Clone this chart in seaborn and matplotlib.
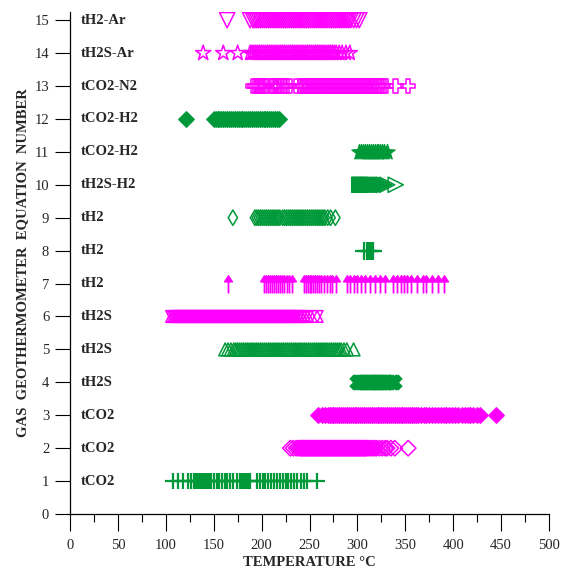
import numpy as np
import pandas as pd
import matplotlib
matplotlib.use('Agg')
import matplotlib.pyplot as plt
from matplotlib.path import Path
from matplotlib.ticker import MultipleLocator
import seaborn as sns

# equation labels, bottom (1) to top (15)
labels = ['tCO2', 'tCO2', 'tCO2', 'tH2S', 'tH2S', 'tH2S', 'tH2', 'tH2', 'tH2',
          'tH2S-H2', 'tCO2-H2', 'tCO2-H2', 'tCO2-N2', 'tH2S-Ar', 'tH2-Ar']

# temperatures (deg C), one list per equation
t01 = [108, 113, 118, 123, 126, 129, 131, 133, 135, 137, 139, 141, 143, 145, 147, 150,
       153, 156, 159, 162, 164, 167, 170, 174, 177, 180, 182, 184, 186, 188, 195, 198,
       201, 204, 207, 210, 213, 216, 219, 222, 225, 228, 231, 234, 237, 241, 244, 247,
       258]
t02 = [230, 233, 236, 238, 240, 241, 242, 243, 244, 245, 246, 247, 248, 249, 250, 251,
       252, 253, 254, 255, 256, 257, 258, 259, 260, 261, 262, 263, 264, 265, 266, 267,
       268, 269, 270, 271, 272, 273, 274, 275, 276, 277, 278, 279, 280, 281, 282, 283,
       284, 285, 286, 287, 288, 289, 290, 291, 292, 293, 294, 295, 296, 297, 298, 299,
       300, 301, 302, 303, 304, 305, 306, 307, 308, 309, 310, 312, 314, 316, 318, 320,
       323, 326, 329, 331, 335, 339, 353]
t03 = [259, 263, 266, 269, 271, 273, 275, 277, 279, 281, 283, 285, 287, 289, 291, 293,
       295, 297, 299, 301, 303, 305, 307, 309, 311, 313, 315, 317, 319, 321, 323, 325,
       327, 329, 331, 333, 335, 337, 339, 341, 343, 345, 347, 349, 351, 353, 355, 357,
       359, 361, 363, 366, 369, 372, 375, 378, 381, 384, 387, 390, 393, 396, 399, 402,
       405, 409, 412, 415, 418, 421, 425, 428, 445]
t04 = [300, 302, 304, 306, 308, 310, 312, 314, 316, 318, 320, 322, 324, 326, 328, 330,
       333, 336, 338]
t05 = [162, 165, 168, 171, 173, 175, 177, 179, 181, 183, 185, 187, 189, 191, 193, 195,
       197, 199, 201, 203, 205, 207, 209, 211, 213, 215, 217, 219, 221, 223, 225, 227,
       229, 231, 233, 235, 237, 239, 241, 243, 245, 247, 249, 251, 253, 255, 257, 259,
       261, 263, 265, 267, 269, 271, 273, 275, 277, 279, 281, 283, 286, 289, 296]
t06 = [106, 108, 110, 112, 114, 116, 118, 120, 122, 124, 126, 128, 130, 132, 134, 136,
       138, 140, 142, 144, 146, 148, 150, 152, 154, 156, 158, 160, 162, 164, 166, 168,
       170, 172, 174, 176, 178, 180, 182, 184, 186, 188, 190, 192, 194, 196, 198, 200,
       202, 204, 206, 208, 210, 212, 214, 216, 218, 220, 222, 224, 226, 228, 230, 232,
       234, 236, 239, 242, 245, 248, 258]
t07 = [165, 203, 205, 207, 209, 211, 213, 215, 217, 219, 221, 223, 226, 229, 232, 244,
       246, 248, 250, 252, 254, 256, 258, 260, 262, 265, 268, 271, 274, 278, 289, 292,
       296, 300, 304, 308, 313, 318, 324, 329, 337, 341, 345, 349, 352, 356, 362, 368,
       372, 378, 384, 390]
t08 = [307, 310, 312, 314, 316]
t09 = [170, 193, 195, 197, 199, 201, 203, 205, 207, 209, 211, 213, 215, 217, 219, 222,
       224, 226, 228, 230, 232, 234, 236, 238, 240, 242, 244, 246, 248, 250, 252, 254,
       256, 258, 260, 262, 264, 266, 269, 272, 277]
t10 = [302, 303, 304, 305, 306, 307, 308, 309, 310, 311, 312, 313, 314, 315, 316, 317,
       318, 320, 322, 324, 326, 328, 331, 340]
t11 = [302, 304, 306, 308, 310, 312, 314, 316, 318, 320, 322, 324, 326, 328, 331]
t12 = [121, 150, 152, 154, 156, 158, 160, 162, 164, 166, 168, 170, 172, 174, 176, 178,
       180, 182, 184, 186, 188, 190, 192, 194, 196, 198, 200, 202, 204, 206, 208, 210,
       212, 214, 216, 218]
t13 = [191, 193, 195, 197, 199, 201, 203, 205, 210, 212, 214, 216, 218, 220, 223, 226,
       229, 236, 240, 242, 244, 246, 248, 250, 252, 254, 256, 258, 260, 262, 264, 266,
       268, 270, 272, 274, 276, 278, 280, 282, 284, 286, 288, 290, 292, 294, 296, 298,
       300, 302, 304, 306, 308, 310, 312, 314, 316, 318, 320, 322, 324, 327, 330, 340,
       353]
t14 = [139, 160, 175, 188, 190, 192, 194, 196, 198, 200, 202, 204, 206, 208, 210, 212,
       214, 216, 218, 220, 222, 224, 226, 228, 230, 232, 234, 236, 238, 240, 242, 244,
       246, 248, 250, 252, 254, 256, 258, 260, 262, 264, 266, 268, 270, 272, 274, 276,
       278, 281, 284, 288, 292]
t15 = [164, 188, 191, 193, 195, 197, 199, 201, 203, 205, 207, 209, 211, 213, 215, 217,
       219, 221, 223, 225, 227, 229, 231, 233, 235, 237, 239, 241, 243, 245, 247, 249,
       251, 253, 255, 257, 259, 261, 263, 265, 267, 269, 271, 273, 275, 277, 279, 281,
       283, 285, 287, 289, 291, 293, 296, 299, 302]

MAG = '#FF00FF'
GRN = '#00993A'

# up-arrow marker shape
arrow = Path([(0, -1), (0, 0.3), (-0.45, 0.3), (0, 1), (0.45, 0.3), (0, 0.3), (0, -1)])

# (temps, marker, colour, open?, size)
rows = [
    (t01, '+', GRN, False, 120),
    (t02, 'D', MAG, True, 62),
    (t03, 'D', MAG, False, 62),
    (t04, 'X', GRN, False, 110),
    (t05, '^', GRN, True, 85),
    (t06, 'hex', MAG, True, 70),
    (t07, arrow, MAG, False, 160),
    (t08, '+', GRN, False, 160),
    (t09, 'd', GRN, True, 62),
    (t10, '>', GRN, True, 120),
    (t11, '*', GRN, False, 130),
    (t12, 'D', GRN, False, 62),
    (t13, 'P', MAG, True, 100),
    (t14, '*', MAG, True, 130),
    (t15, 'v', MAG, True, 120),
]

sns.set_style('ticks')
plt.rcParams['font.family'] = ['Liberation Serif', 'DejaVu Serif']

fig = plt.figure(figsize=(5.82, 5.68), dpi=100)
ax = fig.add_axes([0.1203, 0.095, 0.8230, 0.884])

for i, (temps, mk, col, hollow, size) in enumerate(rows):
    df = pd.DataFrame({'T': temps, 'eq': i + 1})
    markers = ['^', 'v'] if mk == 'hex' else [mk]
    for m in markers:
        kw = dict(data=df, x='T', y='eq', marker=m, s=size, ax=ax, color=col,
                  legend=False, zorder=3)
        if m == '+':
            sns.scatterplot(linewidth=1.6, **kw)
        elif hollow:
            sns.scatterplot(facecolor='none', edgecolor=col, linewidth=1.1, **kw)
        else:
            sns.scatterplot(edgecolor=col, linewidth=1.0, **kw)
    ax.text(11, i + 1, labels[i], fontsize=10.5, fontweight='bold',
            ha='left', va='center')

ax.set_xlim(0, 500)
ax.set_ylim(0, 15.25)
ax.xaxis.set_major_locator(MultipleLocator(50))
ax.xaxis.set_minor_locator(MultipleLocator(25))
ax.set_yticks(range(0, 16))
ax.tick_params(axis='x', which='major', direction='out', length=12, width=0.8,
               labelsize=10.5, pad=6, color='black')
ax.tick_params(axis='x', which='minor', direction='out', length=6, width=0.8, color='black')
ax.tick_params(axis='y', which='major', direction='out', length=11, width=0.8,
               labelsize=10.5, pad=4, color='black')
for s in ['top', 'right']:
    ax.spines[s].set_visible(False)
for s in ['left', 'bottom']:
    ax.spines[s].set_linewidth(0.9)
    ax.spines[s].set_color('black')

ax.set_xlabel('TEMPERATURE °C', fontsize=10.5, fontweight='bold', labelpad=3)
ax.set_ylabel('GAS  GEOTHERMOMETER  EQUATION  NUMBER', fontsize=10.5,
              fontweight='bold', labelpad=4)

fig.savefig('out.png', dpi=100)
